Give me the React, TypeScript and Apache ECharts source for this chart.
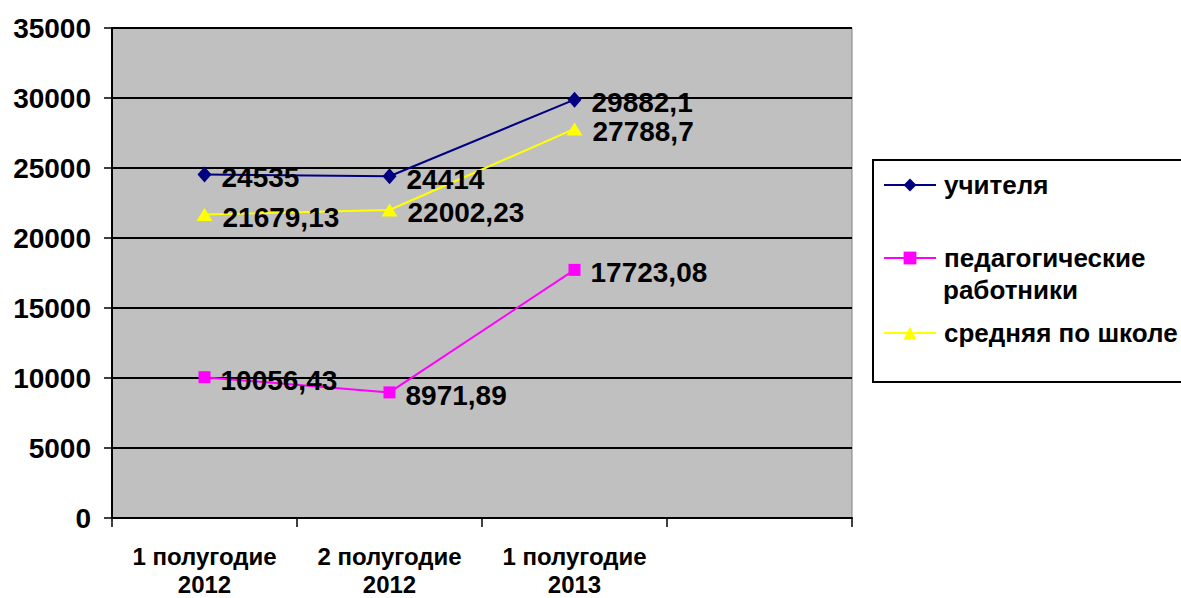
import React, { useEffect, useRef } from "react";
import * as echarts from "echarts";

const categories = ["1 полугодие\n2012", "2 полугодие\n2012", "1 полугодие\n2013", ""];
const seriesNames = ["учителя", "педагогические работники", "средняя по школе"];
const teachers = [24535, 24414, 29882.1];
const pedagogical = [10056.43, 8971.89, 17723.08];
const schoolAverage = [21679.13, 22002.23, 27788.7];
const yTicks = { min: 0, max: 35000, interval: 5000 };

const FONT = "'Liberation Sans', Arial, sans-serif";

export default function App() {
  const ref = useRef<HTMLDivElement>(null);
  useEffect(() => {
    document.body.style.margin = "0";
    const chart = echarts.init(ref.current!, undefined, { renderer: "svg" });
    const label = {
      show: true,
      position: "right" as const,
      distance: 10,
      offset: [0, 3],
      color: "#000",
      fontWeight: "bold" as const,
      fontSize: 28,
      fontFamily: FONT,
      formatter: (p: any) => String(p.value).replace(".", ","),
    };
    const legendText = {
      color: "#000",
      fontWeight: "bold" as const,
      fontSize: 26,
      fontFamily: FONT,
      padding: [0, 0, 0, 3],
    };
    const legendBase = {
      orient: "horizontal" as const,
      left: 883,
      padding: 0,
      itemWidth: 52,
      itemHeight: 16,
      selectedMode: false,
      textStyle: legendText,
    };
    chart.setOption({
      animation: false,
      backgroundColor: "#fff",
      grid: {
        left: 112,
        right: 329,
        top: 28,
        bottom: 80,
        outerBoundsMode: "none",
        containLabel: false,
        show: true,
        backgroundColor: "#c0c0c0",
        borderColor: "#808080",
        borderWidth: 1,
      },
      xAxis: {
        type: "category",
        data: categories,
        boundaryGap: true,
        axisLine: { lineStyle: { color: "#000", width: 2 } },
        axisTick: { show: true, length: 9, interval: 0, lineStyle: { color: "#000", width: 1.5 } },
        axisLabel: {
          interval: 0,
          margin: 24,
          color: "#000",
          fontWeight: "bold",
          fontSize: 24,
          lineHeight: 28,
          fontFamily: FONT,
        },
        splitLine: { show: false },
      },
      yAxis: {
        type: "value",
        min: yTicks.min,
        max: yTicks.max,
        interval: yTicks.interval,
        axisLine: { show: true, lineStyle: { color: "#000", width: 2 } },
        axisTick: { show: true, length: 8, lineStyle: { color: "#000", width: 1.5 } },
        axisLabel: {
          margin: 21,
          color: "#000",
          fontWeight: "bold",
          fontSize: 28,
          fontFamily: FONT,
          formatter: (v: number) => String(v),
        },
        splitLine: { show: true, lineStyle: { color: "#000", width: 2 } },
      },
      legend: [
        { ...legendBase, top: 172, data: [seriesNames[0]] },
        {
          ...legendBase,
          top: 245,
          data: [seriesNames[1]],
          formatter: () => "педагогические",
        },
        { ...legendBase, top: 320, data: [seriesNames[2]] },
      ],
      graphic: [
        {
          type: "rect",
          shape: { x: 873, y: 160, width: 320, height: 222 },
          style: { fill: "none", stroke: "#000", lineWidth: 2 },
          silent: true,
        },
        {
          type: "text",
          x: 943,
          y: 290,
          silent: true,
          style: {
            text: "работники",
            fill: "#000",
            fontWeight: "bold",
            fontSize: 26,
            fontFamily: FONT,
            verticalAlign: "middle",
            align: "left",
          },
        },
      ],
      series: [
        {
          name: seriesNames[0],
          type: "line",
          data: teachers,
          color: "#000080",
          symbol: "diamond",
          symbolSize: [14, 16],
          lineStyle: { color: "#000080", width: 2 },
          itemStyle: { color: "#000080" },
          label,
        },
        {
          name: seriesNames[1],
          type: "line",
          data: pedagogical,
          color: "#ff00ff",
          symbol: "rect",
          symbolSize: 12,
          lineStyle: { color: "#ff00ff", width: 2 },
          itemStyle: { color: "#ff00ff" },
          label,
        },
        {
          name: seriesNames[2],
          type: "line",
          data: schoolAverage,
          color: "#ffff00",
          symbol: "triangle",
          symbolSize: [16, 13],
          lineStyle: { color: "#ffff00", width: 2 },
          itemStyle: { color: "#ffff00" },
          label,
        },
      ],
    });
    return () => chart.dispose();
  }, []);
  return (
    <div
      ref={ref}
      style={{ position: "absolute", left: 0, top: 0, width: 1181, height: 598 }}
    />
  );
}
